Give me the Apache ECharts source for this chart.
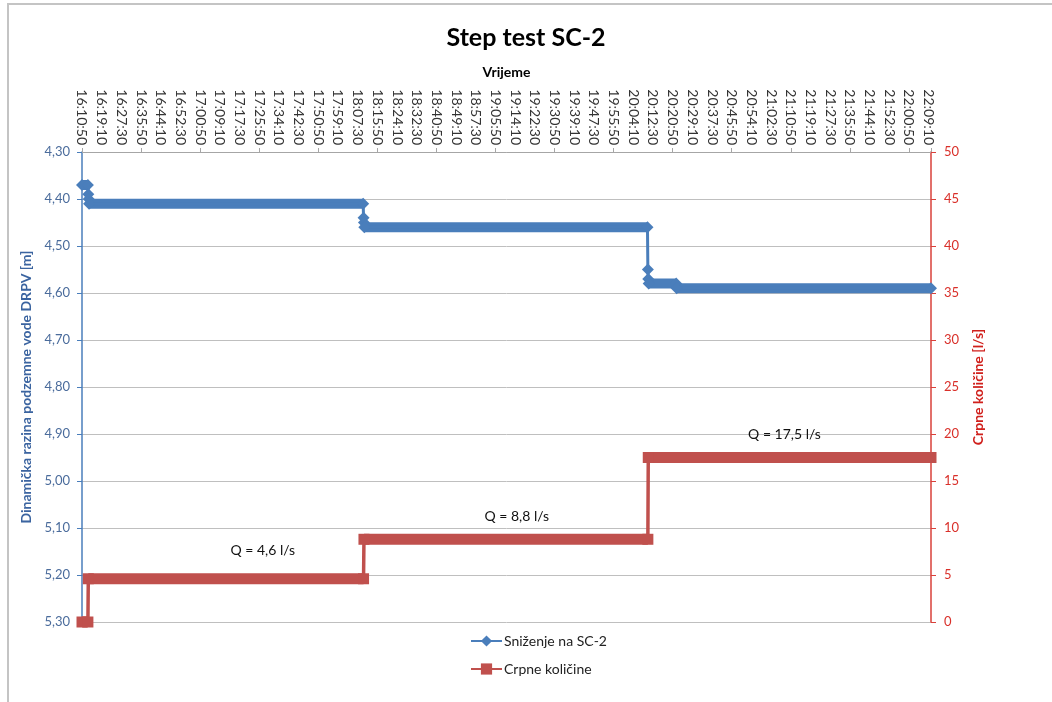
<!DOCTYPE html>
<html>
<head>
<meta charset="utf-8">
<script src="https://cdn.jsdelivr.net/npm/echarts@6/dist/echarts.min.js"></script>
<style>
  html, body { margin: 0; padding: 0; background: #ffffff; }
  #chart { width: 1052px; height: 702px; }
</style>
</head>
<body>
<div id="chart"></div>
<script>
// ---- data (time in seconds after the first reading, 16:10:50) ----
const startClock = [16, 10, 50];
const timeTickStep = 500;          // label every 8:20
const timeEnd = 21560;

// Sniženje na SC-2 (dynamic water level, m) – breakpoints of the stepped record
const levelTimes  = [0, 150, 160, 170, 180, 7140, 7150, 7160, 7170, 14360, 14370, 14380, 14390, 15090, 15100, 21560];
const levelValues = [4.37, 4.37, 4.39, 4.40, 4.41, 4.41, 4.44, 4.45, 4.46, 4.46, 4.55, 4.57, 4.58, 4.58, 4.59, 4.59];

// Crpne količine (pumping rate, l/s)
const flowTimes  = [0, 150, 160, 7150, 7160, 14370, 14380, 21560];
const flowValues = [0, 0, 4.6, 4.6, 8.8, 8.8, 17.5, 17.5];

// Annotations
const noteTexts = ['Q = 4,6 l/s', 'Q = 8,8 l/s', 'Q = 17,5 l/s'];
const noteTimes = [4590, 11040, 17840];
const noteFlows = [7.6, 11.2, 20.0];

const levelTicks = [4.3, 5.3, 0.1];   // min, max, step
const flowTicks  = [0, 50, 5];

// ---- helpers ----
function clock(sec) {
  const base = startClock[0] * 3600 + startClock[1] * 60 + startClock[2];
  const s = base + sec;
  const h = Math.floor(s / 3600), m = Math.floor((s % 3600) / 60), ss = s % 60;
  return h + ':' + String(m).padStart(2, '0') + ':' + String(ss).padStart(2, '0');
}
function pairs(ts, vs) { return ts.map((t, i) => [t, vs[i]]); }
function plateaus(ts, vs) {
  const out = [];
  for (let i = 0; i < ts.length; i++) {
    out.push([ts[i], vs[i]]);
    if (i < ts.length - 1 && vs[i + 1] !== vs[i]) out.push([(ts[i] + ts[i + 1]) / 2, '-']);
  }
  return out;
}

const BLUE = '#4a7ebb';
const RED = '#c0504d';
const FONT = 'Lato, "Open Sans", sans-serif';

const chart = echarts.init(document.getElementById('chart'), null, { renderer: 'canvas' });

chart.setOption({
  animation: false,
  backgroundColor: '#ffffff',
  title: {
    text: 'Step test SC-2',
    left: 'center',
    top: 20,
    textStyle: { fontFamily: FONT, fontSize: 25, fontWeight: 'bold', color: '#000' }
  },
  graphic: [{
    type: 'rect',
    shape: { x: 8, y: 4, width: 1100, height: 760 },
    style: { fill: 'none', stroke: '#c4c4c4', lineWidth: 2 },
    silent: true, z: -10
  }],
  legend: {
    orient: 'vertical',
    left: 465,
    top: 629,
    itemWidth: 31,
    itemHeight: 14,
    itemGap: 14,
    data: ['Sniženje na SC-2', 'Crpne količine'],
    textStyle: { fontFamily: FONT, fontSize: 14, color: '#222', padding: [0, 0, 0, -3] }
  },
  grid: { left: 82, right: 121, top: 152, bottom: 80, containLabel: false },
  xAxis: [{
    type: 'value',
    position: 'top',
    min: 0, max: timeEnd, interval: timeTickStep,
    name: 'Vrijeme',
    nameLocation: 'middle',
    nameGap: 73,
    nameTextStyle: { fontFamily: FONT, fontSize: 14, fontWeight: 'bold', color: '#000' },
    axisLine: { show: true, onZero: false, lineStyle: { color: '#a6a6a6', width: 1 } },
    axisTick: { show: false },
    splitLine: { show: false },
    axisLabel: {
      rotate: 90, margin: 7, fontFamily: FONT, fontSize: 14, color: '#333',
      formatter: v => (v % timeTickStep === 0 ? clock(v) : '')
    }
  }, {
    type: 'value',
    position: 'top',
    min: 0, max: timeEnd, interval: timeTickStep * 3,
    axisLine: { show: false, onZero: false },
    axisTick: { show: true, length: 4, lineStyle: { color: '#a6a6a6' } },
    axisLabel: { show: false },
    splitLine: { show: false }
  }],
  yAxis: [{
    type: 'value',
    inverse: true,
    min: levelTicks[0], max: levelTicks[1], interval: levelTicks[2],
    position: 'left',
    name: 'Dinamička razina podzemne vode DRPV [m]',
    nameLocation: 'middle',
    nameRotate: 90,
    nameGap: 48,
    nameTextStyle: { fontFamily: FONT, fontSize: 14, fontWeight: 'bold', color: '#3b64a0' },
    axisLine: { show: true, onZero: false, lineStyle: { color: BLUE, width: 1.5 } },
    axisTick: { show: true, length: 5, lineStyle: { color: BLUE } },
    splitLine: { show: true, lineStyle: { color: '#bfbfbf', width: 1 } },
    axisLabel: {
      margin: 12, fontFamily: FONT, fontSize: 13, color: '#4b6c9c',
      formatter: v => v.toFixed(2).replace('.', ',')
    }
  }, {
    type: 'value',
    min: flowTicks[0], max: flowTicks[1], interval: flowTicks[2],
    position: 'right',
    name: 'Crpne količine [l/s]',
    nameLocation: 'middle',
    nameRotate: 90,
    nameGap: 40,
    nameTextStyle: { fontFamily: FONT, fontSize: 14, fontWeight: 'bold', color: '#d0201c', verticalAlign: 'top' },
    axisLine: { show: true, onZero: false, lineStyle: { color: '#d9403a', width: 1.5 } },
    axisTick: { show: true, length: 5, lineStyle: { color: '#d9403a' } },
    splitLine: { show: false },
    axisLabel: { margin: 13, fontFamily: FONT, fontSize: 13, color: '#d9302a' }
  }],
  series: [{
    name: 'level-band',
    type: 'line',
    xAxisIndex: 0, yAxisIndex: 0,
    data: plateaus(levelTimes, levelValues),
    showSymbol: false,
    connectNulls: false,
    lineStyle: { color: BLUE, width: 10, cap: 'butt' },
    itemStyle: { color: BLUE },
    silent: true, z: 2
  }, {
    name: 'Sniženje na SC-2',
    type: 'line',
    xAxisIndex: 0, yAxisIndex: 0,
    data: pairs(levelTimes, levelValues),
    symbol: 'diamond',
    symbolSize: 12,
    showAllSymbol: true,
    lineStyle: { color: BLUE, width: 3 },
    itemStyle: { color: BLUE },
    z: 3
  }, {
    name: 'flow-band',
    type: 'line',
    xAxisIndex: 0, yAxisIndex: 1,
    data: plateaus(flowTimes, flowValues),
    showSymbol: false,
    connectNulls: false,
    lineStyle: { color: RED, width: 11, cap: 'butt' },
    itemStyle: { color: RED },
    silent: true, z: 2
  }, {
    name: 'Crpne količine',
    type: 'line',
    xAxisIndex: 0, yAxisIndex: 1,
    data: pairs(flowTimes, flowValues),
    symbol: 'rect',
    symbolSize: 11,
    showAllSymbol: true,
    lineStyle: { color: RED, width: 3.5 },
    itemStyle: { color: RED },
    z: 3,
    markPoint: {
      symbol: 'circle',
      symbolSize: 0,
      silent: true,
      label: {
        show: true, position: 'inside',
        fontFamily: FONT, fontSize: 14, color: '#111',
        formatter: p => p.name
      },
      data: noteTexts.map((txt, i) => ({ name: txt, coord: [noteTimes[i], noteFlows[i]] }))
    }
  }]
});
</script>
</body>
</html>
